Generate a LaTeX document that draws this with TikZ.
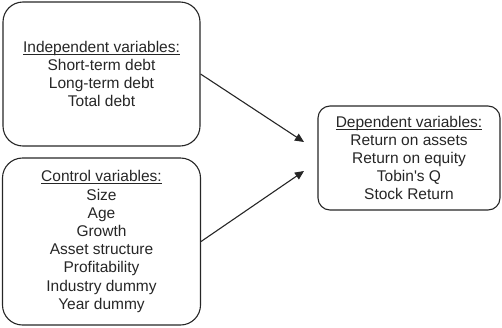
\documentclass[tikz,border=0pt]{standalone}
\usepackage{fontspec}
\setmainfont{Liberation Sans}
\newcommand\myul[1]{\setbox0\hbox{#1}\rlap{\rule[-2.2pt]{\wd0}{0.8pt}}\box0}
\usetikzlibrary{arrows.meta}
\begin{document}
\begin{tikzpicture}[x=1pt,y=-1pt,
  box/.style={draw=black!85, line width=1.1pt, align=center, inner sep=0pt,
    font=\fontsize{15.5}{18.2}\selectfont, text=black!85},
  conn/.style={draw=black!85, line width=1.1pt, -{Triangle[length=9pt,width=8pt]}}]
\useasboundingbox (0,0) rectangle (502,327);
\node[box, minimum width=197pt, minimum height=144pt, rounded corners=20pt] (b1) at (101.5,74)
  {\myul{Independent variables:}\\Short-term debt\\Long-term debt\\Total debt};
\node[box, minimum width=198pt, minimum height=167pt, rounded corners=20pt] (b2) at (101.5,241.5)
  {\myul{Control variables:}\\Size\\Age\\Growth\\Asset structure\\Profitability\\Industry dummy\\Year dummy};
\node[box, minimum width=182pt, minimum height=104pt, rounded corners=12pt] (b3) at (409,158)
  {\myul{Dependent variables:}\\Return on assets\\Return on equity\\Tobin\textquotesingle s Q\\Stock Return};
\coordinate (t1) at (304,142);
\coordinate (t2) at (304,171);
\draw[conn] (b1.east) -- (t1);
\draw[conn] (b2.east) -- (t2);
\end{tikzpicture}
\end{document}
